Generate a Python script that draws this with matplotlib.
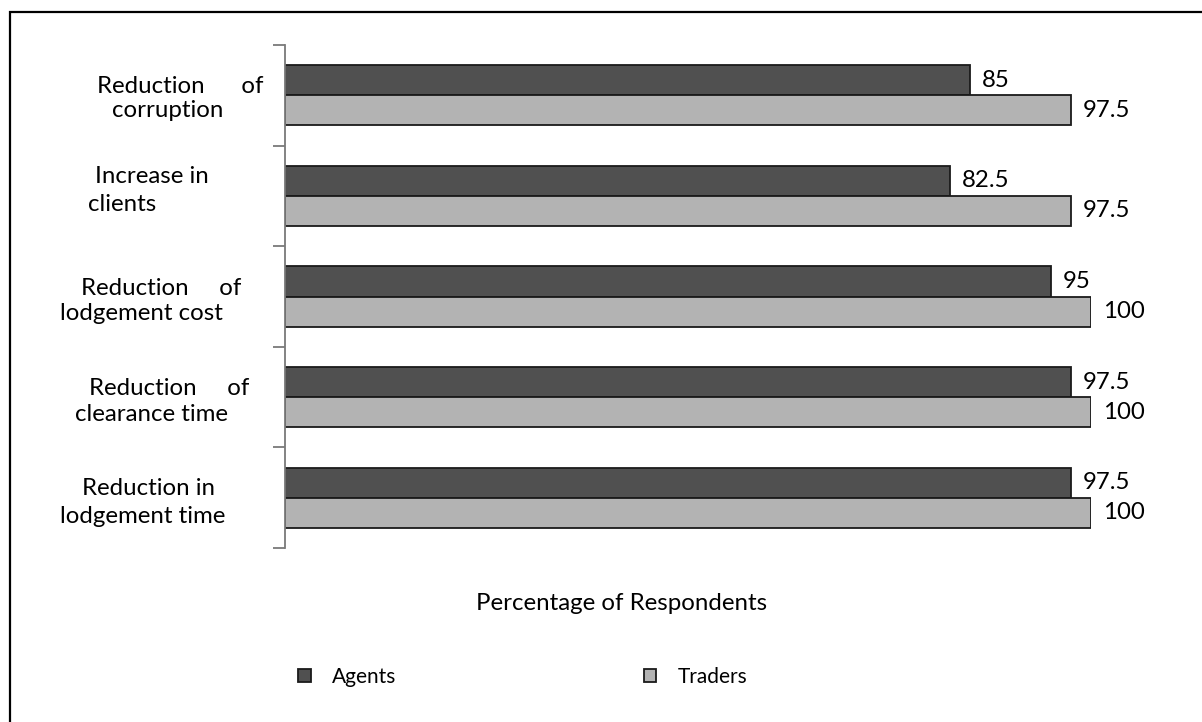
import matplotlib
matplotlib.use("Agg")
import matplotlib.pyplot as plt
from matplotlib.patches import Rectangle, Patch
import matplotlib.transforms as mtransforms
import numpy as np

# ---- data ----
categories = ["Reduction      of\ncorruption",
              "Increase in\nclients",
              "Reduction     of\nlodgement cost",
              "Reduction     of\nclearance time",
              "Reduction in\nlodgement time"]
agents = [85, 82.5, 95, 97.5, 97.5]
traders = [97.5, 97.5, 100, 100, 100]
series_names = ["Agents", "Traders"]
xlabel = "Percentage of Respondents"

# ---- style ----
plt.rcParams['font.family'] = ['Lato', 'DejaVu Sans']
FS = 17.3
LFS = 15
dark = '#505050'
light = '#b3b3b3'
edge = '#1a1a1a'
txt = '#000000'

W, H = 1202, 722
fig = plt.figure(figsize=(W / 100, H / 100), dpi=100)
fig.patch.set_facecolor('white')

def fx(px):
    return px / W

def fy(py):
    return 1 - py / H

ax = fig.add_axes([fx(285), fy(548), fx(1091) - fx(285), fy(45) - fy(548)])

y = np.arange(len(categories))
bh = 0.3
b1 = ax.barh(y - bh / 2, agents, height=bh, color=dark, edgecolor=edge, linewidth=1.3)
b2 = ax.barh(y + bh / 2, traders, height=bh, color=light, edgecolor=edge, linewidth=1.3)

ax.set_xlim(0, 100)
ax.set_ylim(len(categories) - 0.5, -0.5)

for spine in ['top', 'right', 'bottom']:
    ax.spines[spine].set_visible(False)
ax.spines['left'].set_color('#7a7a7a')
ax.spines['left'].set_linewidth(1.3)
ax.set_xticks([])
ax.set_yticks(np.arange(-0.5, len(categories) + 0.5, 1.0))
ax.set_yticklabels([])
ax.tick_params(axis='y', direction='out', length=9, width=1.3, color='#7a7a7a')

# value labels
for bars, vals in ((b1, agents), (b2, traders)):
    for rect, v in zip(bars, vals):
        ax.annotate(f"{v:g}", (rect.get_width(), rect.get_y() + rect.get_height() / 2),
                    xytext=(12, 0), textcoords='offset pixels', ha='left', va='center',
                    fontsize=FS, color=txt, annotation_clip=False)

# category labels (left of the axis), one text per line, placed in pixels
line_x = [(97, 112), (95, 88), (81, 60), (89, 75), (82, 60)]       # left edge of each line
line_dy = [(-2, 22), (-12.5, 15), (-1.5, 23.5), (-2, 24), (-2.5, 25.5)]  # baseline offset from group centre
for i, lab in enumerate(categories):
    for line, xp, dy in zip(lab.split("\n"), line_x[i], line_dy[i]):
        tr = mtransforms.blended_transform_factory(fig.transFigure, ax.transData) + \
            mtransforms.ScaledTranslation(0, -dy / 100, fig.dpi_scale_trans)
        ax.text(fx(xp), i, line, transform=tr, ha='left', va='baseline',
                fontsize=FS, color=txt)

# x label
fig.text(fx(622), fy(603), xlabel, ha='center', va='center', fontsize=FS, color=txt)

# legend
handles = [Patch(facecolor=dark, edgecolor=edge, linewidth=1.3),
           Patch(facecolor=light, edgecolor=edge, linewidth=1.3)]
leg = fig.legend(handles, series_names, loc='center left',
                 bbox_to_anchor=(fx(298), fy(677)), bbox_transform=fig.transFigure,
                 ncol=2, frameon=False, fontsize=LFS, borderpad=0, borderaxespad=0,
                 handlelength=0.6, handleheight=0.6, handletextpad=1.05, columnspacing=11.85)
for t in leg.get_texts():
    t.set_color(txt)

# outer frame (top and left visible)
fig.add_artist(Rectangle((fx(10), -0.1), 1.2, fy(12) + 0.1, transform=fig.transFigure,
                         fill=False, edgecolor='black', linewidth=1.6))

fig.savefig("out.png", dpi=100, facecolor='white')
